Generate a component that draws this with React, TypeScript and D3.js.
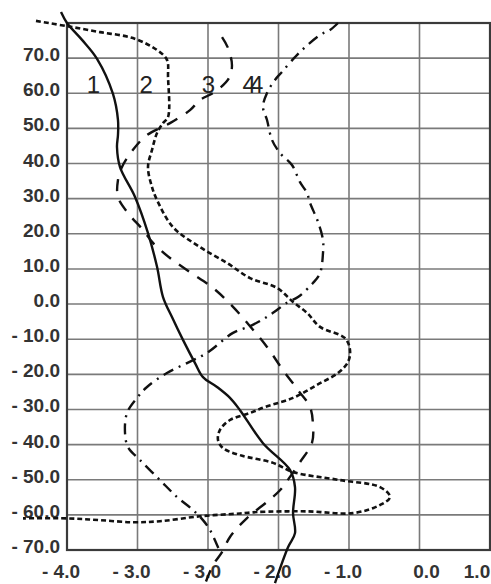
import React from "react";
import * as d3 from "d3";

const xTicks = [-5, -4, -3, -2, -1, 0, 1];
const xTickLabels = ["- 4.0", "- 3.0", "- 3.0", "- 2.0", "- 1.0", "0.0", "1.0"];
const yTicks = [-70, -60, -50, -40, -30, -20, -10, 0, 10, 20, 30, 40, 50, 60, 70, 80];
const yTickLabels = ["- 70.0", "- 60.0", "- 50.0", "- 40.0", "- 30.0", "- 20.0", "- 10.0", "0.0", "10.0", "20.0", "30.0", "40.0", "50.0", "60.0", "70.0", ""];

const curve1: [number, number][] = [
  [-5.085, 83.1], [-5.0, 80.0], [-4.787, 75.2], [-4.574, 69.8], [-4.348, 59.8], [-4.277, 52.4],
  [-4.277, 48.1], [-4.291, 44.7], [-4.248, 39.0], [-4.035, 30.5], [-3.851, 20.2], [-3.723, 10.6],
  [-3.638, 2.0], [-3.511, -3.7], [-3.355, -10.2], [-3.184, -16.8], [-3.071, -20.8], [-2.872, -23.6],
  [-2.688, -26.7], [-2.546, -30.2], [-2.22, -39.6], [-1.837, -47.2], [-1.766, -52.1], [-1.794, -59.5],
  [-1.766, -65.2], [-1.865, -69.2], [-2.05, -79.4],
];

const curve2: [number, number][] = [
  [-5.44, 80.6], [-5.0, 79.1], [-4.532, 77.4], [-4.064, 75.7], [-3.723, 72.3], [-3.582, 69.5],
  [-3.567, 64.6], [-3.567, 53.2], [-3.638, 51.5], [-3.723, 48.7], [-3.794, 43.9], [-3.851, 39.0],
  [-3.794, 33.3], [-3.723, 29.6], [-3.496, 21.9], [-3.113, 16.2], [-2.73, 11.7], [-2.404, 7.4],
  [-2.021, 4.6], [-1.794, 0.6], [-1.596, -2.5], [-1.411, -6.5], [-1.057, -9.7], [-0.986, -13.1],
  [-1.014, -16.5], [-1.156, -19.6], [-1.454, -23.0], [-1.794, -26.7], [-2.191, -29.3], [-2.404, -31.0],
  [-2.688, -33.0], [-2.83, -35.8], [-2.858, -38.7], [-2.787, -41.0], [-2.546, -43.0], [-2.078, -45.2],
  [-1.794, -47.8], [-1.128, -50.1], [-0.56, -52.1], [-0.418, -54.9], [-0.56, -57.2], [-0.943, -59.5],
  [-1.596, -59.0], [-2.305, -59.2], [-2.546, -59.6], [-3.113, -60.4], [-3.681, -61.8], [-4.064, -62.1],
  [-4.532, -61.5], [-5.0, -61.0], [-5.624, -61.0],
];

const curve3: [number, number][] = [
  [-2.801, 76.0], [-2.716, 72.9], [-2.66, 68.0], [-2.702, 64.3], [-2.901, 60.4], [-3.113, 58.1],
  [-3.255, 55.2], [-3.539, 51.5], [-3.865, 48.1], [-4.064, 43.9], [-4.22, 39.0], [-4.277, 35.3],
  [-4.277, 30.5], [-4.135, 25.9], [-3.922, 21.1], [-3.78, 17.4], [-3.539, 13.1], [-3.255, 9.1],
  [-2.929, 4.6], [-2.645, -0.8], [-2.404, -6.3], [-2.163, -12.2], [-1.936, -18.8], [-1.723, -24.5],
  [-1.553, -29.3], [-1.511, -34.4], [-1.525, -39.5], [-1.695, -45.0], [-1.837, -49.2], [-1.979, -53.0],
  [-2.163, -56.3], [-2.447, -60.9], [-2.688, -66.3], [-2.801, -70.6], [-2.929, -74.3], [-3.043, -79.7],
];

const curve4: [number, number][] = [
  [-1.156, 80.0], [-1.27, 78.0], [-1.411, 76.6], [-1.667, 72.3], [-1.766, 70.3], [-1.95, 66.1],
  [-2.05, 63.8], [-2.163, 60.1], [-2.22, 56.1], [-2.163, 52.4], [-2.092, 46.7], [-1.979, 43.0],
  [-1.809, 39.6], [-1.695, 34.7], [-1.596, 31.6], [-1.553, 28.8], [-1.44, 23.4], [-1.369, 18.2],
  [-1.369, 14.5], [-1.411, 8.8], [-1.511, 6.0], [-1.723, 2.0], [-1.865, 0.6], [-2.078, -2.5],
  [-2.234, -4.5], [-2.404, -6.3], [-2.645, -8.2], [-3.014, -13.9], [-3.298, -16.8], [-3.582, -19.6],
  [-3.865, -23.6], [-4.007, -26.7], [-4.149, -31.0], [-4.177, -36.7], [-4.135, -40.7],
  [-3.965, -44.4], [-3.681, -50.1], [-3.44, -54.9], [-3.213, -58.6], [-3.071, -61.5], [-2.972, -64.3],
  [-2.858, -69.2], [-2.83, -70.6],
];

const seriesLabels = [
  { text: "1", x: -4.72, y: 60.1, spacing: 0 },
  { text: "2", x: -3.97, y: 60.1, spacing: 0 },
  { text: "3", x: -3.09, y: 60.1, spacing: 0 },
  { text: "44", x: -2.51, y: 60.1, spacing: -6 },
];

export default function App() {
  const W = 491, H = 584;
  const x = d3.scaleLinear().domain([-5, 1]).range([67, 490]);
  const y = d3.scaleLinear().domain([-70, 80]).range([550, 23]);
  const line = d3
    .line<[number, number]>()
    .x((d) => x(d[0]))
    .y((d) => y(d[1]))
    .curve(d3.curveCatmullRom.alpha(0.5));

  const xLabelX = (v: number, i: number) => {
    if (i === xTicks.length - 1) return x(v) - 13;
    if (v === 0) return x(v) + 7;
    return x(v) - 6;
  };

  return (
    <div style={{ position: "absolute", left: 0, top: 0 }}>
      <svg width={W} height={H} style={{ display: "block", background: "#fff" }}>
        {xTicks.map((v) => (
          <line key={"gx" + v} x1={x(v)} x2={x(v)} y1={y(80)} y2={y(-70)} stroke="#7a7a7a" strokeWidth={1.6} />
        ))}
        {yTicks.map((v) => (
          <line key={"gy" + v} x1={x(-5)} x2={x(1)} y1={y(v)} y2={y(v)} stroke="#7a7a7a" strokeWidth={1.6} />
        ))}
        <rect x={x(-5)} y={y(80)} width={x(1) - x(-5)} height={y(-70) - y(80)} fill="none" stroke="#3a3a3a" strokeWidth={2.2} />

        {yTicks.map((v, i) => (
          <text key={"ly" + v} x={60} y={y(v) + 3} textAnchor="end" fontFamily="'Liberation Sans', Arial, sans-serif" fontWeight="bold" fontSize={19} fill="#333">
            {yTickLabels[i]}
          </text>
        ))}
        {xTicks.map((v, i) => (
          <text key={"lx" + i} x={xLabelX(v, i)} y={578} textAnchor="middle" fontFamily="'Liberation Sans', Arial, sans-serif" fontWeight="bold" fontSize={19} fill="#333">
            {xTickLabels[i]}
          </text>
        ))}

        <path d={line(curve1) || ""} fill="none" stroke="#111" strokeWidth={2.4} />
        <path d={line(curve2) || ""} fill="none" stroke="#111" strokeWidth={2.6} strokeDasharray="5 3" />
        <path d={line(curve3) || ""} fill="none" stroke="#111" strokeWidth={2.4} strokeDasharray="12 10" />
        <path d={line(curve4) || ""} fill="none" stroke="#111" strokeWidth={2.4} strokeDasharray="11 6 2 6" />

        {seriesLabels.map((s, i) => (
          <text key={"sl" + i} x={x(s.x)} y={y(s.y)} letterSpacing={s.spacing} fontFamily="'Liberation Sans', Arial, sans-serif" fontSize={24} fill="#222">
            {s.text}
          </text>
        ))}
      </svg>
    </div>
  );
}
